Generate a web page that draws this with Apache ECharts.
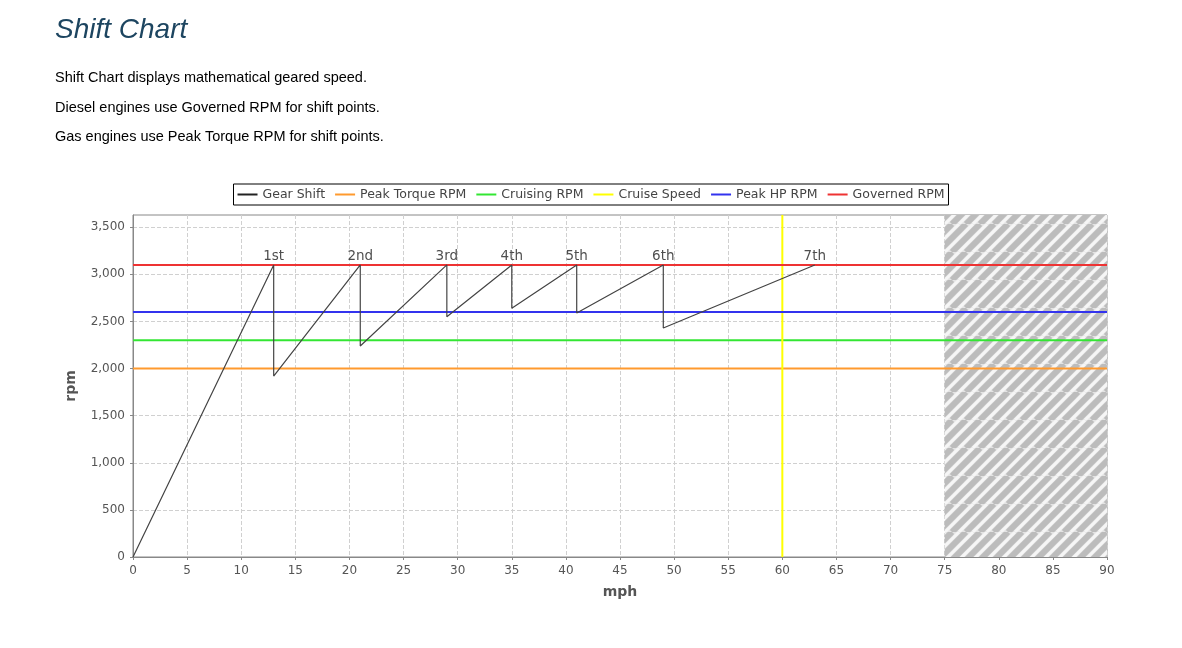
<!DOCTYPE html>
<html><head><meta charset="utf-8">
<script src="https://cdn.jsdelivr.net/npm/echarts@6/dist/echarts.min.js"></script>
<style>body{margin:0;background:#fff}#c{width:1182px;height:648px}</style>
</head><body><div id="c"></div>
<script>
const gearShift = [[0,0],[13,3100],[13,1920],[21,3100],[21,2240],[29,3100],[29,2550],[35,3100],[35,2640],[41,3100],[41,2590],[49,3100],[49,2430],[63,3100]];
const gearLabels = [[13,3100,'1st'],[21,3100,'2nd'],[29,3100,'3rd'],[35,3100,'4th'],[41,3100,'5th'],[49,3100,'6th'],[63,3100,'7th']];
const peakTorque = 2000, cruisingRpm = 2300, cruiseSpeed = 60, peakHp = 2600, governedRpm = 3100;
const hatchRange = [75, 90];

const pc = document.createElement('canvas'); pc.width = 28; pc.height = 28;
const g = pc.getContext('2d');
g.fillStyle = '#e4e4e4'; g.fillRect(0,0,28,28);
g.strokeStyle = '#bcbcbc'; g.lineWidth = 6;
for (let k=-28;k<=56;k+=14){ g.beginPath(); g.moveTo(k,28); g.lineTo(k+28,0); g.stroke(); }
g.strokeStyle = '#f6f6f6'; g.lineWidth = 3;
for (let k=-21;k<=63;k+=14){ g.beginPath(); g.moveTo(k,28); g.lineTo(k+28,0); g.stroke(); }

const hline = (name, v, color) => ({name, type:'line', data:[[0,v],[90,v]], symbol:'none', lineStyle:{color, width:2}, itemStyle:{color}, z:3});
const chart = echarts.init(document.getElementById('c'));
chart.setOption({
  animation:false,
  title:[
    {text:'Shift Chart', left:50, top:11, textStyle:{fontFamily:'Liberation Sans', fontStyle:'italic', fontWeight:'normal', fontSize:28, color:'#1d4560'}},
    {text:'Shift Chart displays mathematical geared speed.', left:50, top:65, textStyle:{fontFamily:'Liberation Sans', fontWeight:'normal', fontSize:14.5, color:'#000'}},
    {text:'Diesel engines use Governed RPM for shift points.', left:50, top:95, textStyle:{fontFamily:'Liberation Sans', fontWeight:'normal', fontSize:14.5, color:'#000'}},
    {text:'Gas engines use Peak Torque RPM for shift points.', left:50, top:124, textStyle:{fontFamily:'Liberation Sans', fontWeight:'normal', fontSize:14.5, color:'#000'}}
  ],
  legend:{top:184, left:'center', icon:'rect', itemWidth:20, itemHeight:2, itemGap:10, borderColor:'#000', borderWidth:1, padding:[4,4], borderRadius:0,
    textStyle:{fontFamily:'DejaVu Sans', fontSize:12.5, color:'#444'},
    data:['Gear Shift','Peak Torque RPM','Cruising RPM','Cruise Speed','Peak HP RPM','Governed RPM']},
  grid:{left:133, right:75, top:215, bottom:91, show:true, borderColor:'#888', borderWidth:1},
  xAxis:{type:'value', min:0, max:90, interval:5, name:'mph', nameLocation:'middle', nameGap:28,
    nameTextStyle:{fontFamily:'DejaVu Sans', fontWeight:'bold', fontSize:14, color:'#555'},
    axisLine:{lineStyle:{color:'#888'}}, axisTick:{show:true, length:3}, axisLabel:{fontFamily:'DejaVu Sans', fontSize:12, color:'#555'},
    splitLine:{show:true, lineStyle:{type:'dashed', color:'#d0d0d0'}}},
  yAxis:{type:'value', min:0, max:3630, interval:500, name:'rpm', nameLocation:'middle', nameGap:55,
    nameTextStyle:{fontFamily:'DejaVu Sans', fontWeight:'bold', fontSize:14, color:'#555'},
    axisLine:{show:true, lineStyle:{color:'#888'}}, axisTick:{show:true, length:3},
    axisLabel:{fontFamily:'DejaVu Sans', fontSize:12, color:'#555', showMaxLabel:false, formatter:v=>v.toLocaleString('en-US')},
    splitLine:{show:true, showMaxLine:false, lineStyle:{type:'dashed', color:'#d0d0d0'}}},
  series:[
    {name:'Gear Shift', type:'line', data:gearShift, symbol:'none', lineStyle:{color:'#444', width:1.2}, itemStyle:{color:'#222'}, z:5,
      markArea:{silent:true, itemStyle:{color:{image:pc, repeat:'repeat'}}, data:[[{xAxis:hatchRange[0]},{xAxis:hatchRange[1]}]]}},
    hline('Peak Torque RPM', peakTorque, '#ff9a2e'),
    hline('Cruising RPM', cruisingRpm, '#33e633'),
    {name:'Cruise Speed', type:'line', data:[[cruiseSpeed,0],[cruiseSpeed,3630]], symbol:'none', lineStyle:{color:'#ffff00', width:2}, itemStyle:{color:'#ffff00'}, z:3},
    hline('Peak HP RPM', peakHp, '#3333ee'),
    hline('Governed RPM', governedRpm, '#ee3333'),
    {type:'scatter', data:gearLabels.map(d=>({value:[d[0],d[1]], name:d[2]})), symbolSize:0, z:6,
      label:{show:true, position:'top', distance:1, formatter:p=>p.name, fontFamily:'DejaVu Sans', fontSize:13.5, color:'#222'}}
  ]
});
</script></body></html>
